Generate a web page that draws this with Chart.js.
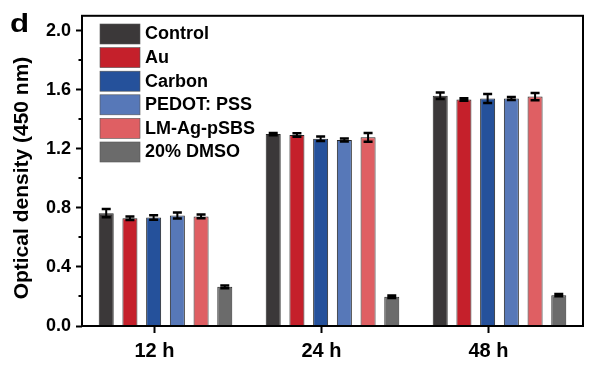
<!DOCTYPE html>
<html>
<head>
<meta charset="utf-8">
<script src="https://cdn.jsdelivr.net/npm/chart.js@4.4.1/dist/chart.umd.min.js"></script>
<style>
  html, body { margin: 0; padding: 0; background: #ffffff; }
  #wrap { width: 611px; height: 378px; }
</style>
</head>
<body>
<div id="wrap"><canvas id="c" width="611" height="378"></canvas></div>
<script>
// ---- data ----
const categories = ['12 h', '24 h', '48 h'];
const seriesNames = ['Control', 'Au', 'Carbon', 'PEDOT: PSS', 'LM-Ag-pSBS', '20% DMSO'];
const control    = [0.764, 1.299, 1.558];
const controlErr = [0.028, 0.008, 0.022];
const au         = [0.730, 1.293, 1.533];
const auErr      = [0.012, 0.012, 0.008];
const carbon     = [0.735, 1.268, 1.540];
const carbonErr  = [0.015, 0.015, 0.030];
const pedot      = [0.748, 1.259, 1.540];
const pedotErr   = [0.020, 0.010, 0.010];
const lmAg       = [0.742, 1.277, 1.553];
const lmAgErr    = [0.012, 0.030, 0.025];
const dmso       = [0.265, 0.198, 0.209];
const dmsoErr    = [0.010, 0.008, 0.007];
const yTickValues = [0.0, 0.4, 0.8, 1.2, 1.6, 2.0];
const yMinorValues = [0.2, 0.6, 1.0, 1.4, 1.8];
const yTitle = 'Optical density (450 nm)';
const panelLabel = 'd';

const seriesValues = [control, au, carbon, pedot, lmAg, dmso];
const seriesErrors = [controlErr, auErr, carbonErr, pedotErr, lmAgErr, dmsoErr];
const colors = ['#3b3839', '#c5202b', '#25519b', '#5778b8', '#df5f63', '#6b6b6b'];

const FONT = "'Liberation Sans', Arial, sans-serif";

const datasets = seriesNames.map((name, i) => ({
  label: name,
  data: seriesValues[i],
  errors: seriesErrors[i],
  backgroundColor: colors[i],
  borderColor: '#262626',
  borderWidth: 1,
  xAxisID: 'x',
  yAxisID: 'y',
  categoryPercentage: 0.852,
  barPercentage: 0.633
}));

const decorPlugin = {
  id: 'decor',
  afterDatasetsDraw(chart) {
    const ctx = chart.ctx;
    const y = chart.scales.y;
    ctx.save();
    ctx.strokeStyle = '#000';
    chart.data.datasets.forEach((ds, di) => {
      const meta = chart.getDatasetMeta(di);
      meta.data.forEach((bar, j) => {
        const v = ds.data[j], e = ds.errors[j];
        const yt = y.getPixelForValue(v + e);
        const yb = y.getPixelForValue(v - e);
        const x = bar.x;
        ctx.lineWidth = 2;
        ctx.beginPath();
        ctx.moveTo(x, yt); ctx.lineTo(x, yb);
        ctx.stroke();
        ctx.lineWidth = 2.5;
        ctx.beginPath();
        ctx.moveTo(x - 4.5, yt); ctx.lineTo(x + 4.5, yt);
        ctx.moveTo(x - 4.5, yb); ctx.lineTo(x + 4.5, yb);
        ctx.stroke();
      });
    });
    ctx.restore();
  },
  afterDraw(chart) {
    const ctx = chart.ctx;
    const a = chart.chartArea;
    const y = chart.scales.y;
    ctx.save();
    // frame
    ctx.strokeStyle = '#000';
    ctx.lineWidth = 2;
    ctx.strokeRect(a.left, a.top, a.right - a.left, a.bottom - a.top);
    // minor ticks
    ctx.lineWidth = 2;
    ctx.beginPath();
    yMinorValues.forEach(v => {
      const py = Math.round(y.getPixelForValue(v));
      ctx.moveTo(a.left - 3.5, py); ctx.lineTo(a.left, py);
    });
    ctx.stroke();
    // legend
    ctx.font = 'bold 18px ' + FONT;
    ctx.textBaseline = 'middle';
    ctx.textAlign = 'left';
    chart.data.datasets.forEach((ds, i) => {
      const top = 24 + i * 23.6;
      ctx.fillStyle = ds.backgroundColor;
      ctx.fillRect(100, top, 40, 20);
      ctx.strokeStyle = '#555';
      ctx.lineWidth = 0.6;
      ctx.strokeRect(100, top, 40, 20);
      ctx.fillStyle = '#000';
      ctx.fillText(ds.label, 145, top + 10.5);
    });
    // y title
    ctx.save();
    ctx.translate(22, 178);
    ctx.rotate(-Math.PI / 2);
    ctx.font = 'bold 21px ' + FONT;
    ctx.textAlign = 'center';
    ctx.textBaseline = 'middle';
    ctx.fillText(yTitle, 0, 0);
    ctx.restore();
    // panel label
    ctx.save();
    ctx.translate(10, 32);
    ctx.scale(1.25, 1);
    ctx.font = 'bold 25px ' + FONT;
    ctx.textAlign = 'left';
    ctx.textBaseline = 'alphabetic';
    ctx.fillStyle = '#000';
    ctx.fillText(panelLabel, 0, 0);
    ctx.restore();
    ctx.restore();
  }
};

new Chart(document.getElementById('c'), {
  type: 'bar',
  data: { labels: categories, datasets: datasets },
  options: {
    responsive: false,
    animation: false,
    devicePixelRatio: 1,
    layout: { padding: { left: 0, right: 28, top: 15, bottom: 0 } },
    plugins: { legend: { display: false }, tooltip: { enabled: false } },
    scales: {
      x: {
        type: 'category',
        display: false,
        offset: true
      },
      xt: {
        type: 'linear',
        position: 'bottom',
        offset: false,
        min: 0.566,
        max: 3.566,
        afterBuildTicks(scale) { scale.ticks = categories.map((c, i) => ({ value: i + 1 })); },
        afterFit(scale) { scale.height = 52; },
        grid: { offset: false, drawOnChartArea: false, drawTicks: true, tickLength: 7, tickWidth: 2, tickColor: '#000' },
        border: { display: false },
        ticks: {
          color: '#000',
          padding: 6,
          font: { family: FONT, size: 20, weight: 'bold' },
          callback: (v) => categories[Math.round(v) - 1] || ''
        }
      },
      y: {
        type: 'linear',
        min: 0,
        max: 2.1,
        afterBuildTicks(scale) { scale.ticks = yTickValues.map(v => ({ value: v })); },
        afterFit(scale) { scale.width = 82; },
        grid: { drawOnChartArea: false, drawTicks: true, tickLength: 6, tickWidth: 2, tickColor: '#000' },
        border: { display: false },
        ticks: {
          color: '#000',
          padding: 5,
          font: { family: FONT, size: 18, weight: 'bold' },
          callback: (v) => Number(v).toFixed(1)
        }
      }
    }
  },
  plugins: [decorPlugin]
});
</script>
</body>
</html>
